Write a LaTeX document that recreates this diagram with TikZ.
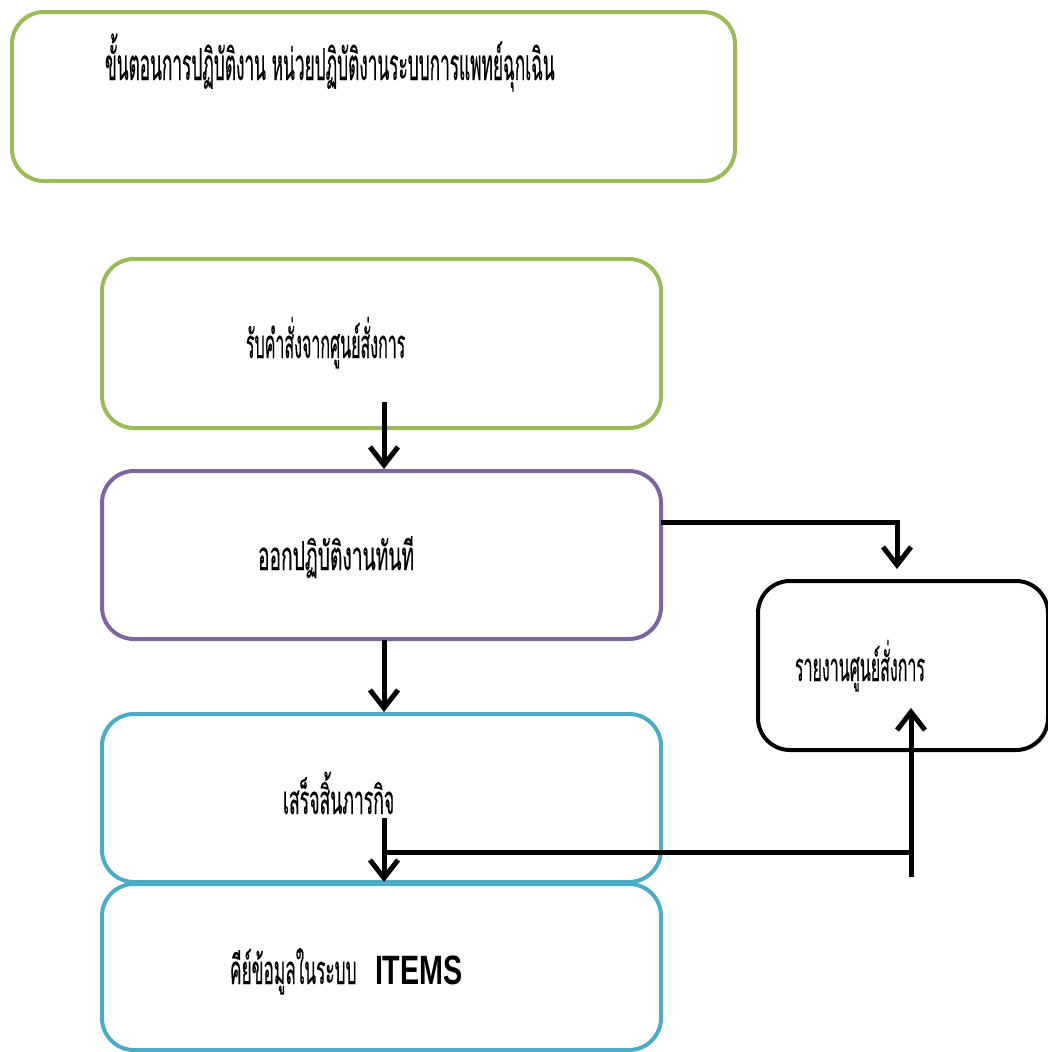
\documentclass[tikz,border=0pt]{standalone}
\usepackage{fontspec}
\newfontfamily\thaifont[Script=Thai,FakeStretch=0.4,FakeBold=0.3]{Loma}
\newfontfamily\itemsfont[FakeStretch=0.7]{Liberation Sans}
\usetikzlibrary{arrows.meta}
\definecolor{cgreen}{HTML}{9BBB59}
\definecolor{cpurple}{HTML}{8064A2}
\definecolor{ccyan}{HTML}{4BACC6}
\tikzset{
  box/.style={draw=#1, line width=4pt, rounded corners=32pt, rectangle, fill=none, inner sep=0pt},
  lbl/.style={inner sep=0pt, outer sep=0pt, font=\thaifont\fontsize{40}{46}\selectfont},
  conn/.style={line width=5pt, black},
  arr/.style={conn, -{Straight Barb[length=18pt,width=28pt]}},
}
\begin{document}
\begin{tikzpicture}[x=1pt,y=-1pt]
\useasboundingbox (0,0) rectangle (1047,1052);
\fill[white] (0,0) rectangle (1047,1052);
% boxes
\node[box=cgreen, minimum width=723pt, minimum height=169pt] (title) at (373.5,96.5) {};
\node[box=cgreen, minimum width=559pt, minimum height=169pt] (b1) at (381.5,343.5) {};
\node[box=cpurple, minimum width=559pt, minimum height=168pt] (b2) at (381.5,555) {};
\node[box=ccyan, minimum width=559pt, minimum height=168pt] (b3) at (381.5,798) {};
\node[box=ccyan, minimum width=559pt, minimum height=166pt] (b4) at (381.5,967) {};
\node[box=black, minimum width=290pt, minimum height=169pt] (b5) at (903,665.5) {};
% labels
\node[lbl, anchor=base west, font=\thaifont\fontsize{44}{50}\selectfont] (t0) at (105,80) {\scalebox{0.98}[1]{ขั้นตอนการปฏิบัติงาน หน่วยปฏิบัติงานระบบการแพทย์ฉุกเฉิน}};
\node[lbl, anchor=base west] (t1) at (246,358) {รับคำสั่งจากศูนย์สั่งการ};
\node[lbl, anchor=base west] (t2) at (258,570) {\scalebox{1.2}[1]{ออกปฏิบัติงานทันที}};
\node[lbl, anchor=base west] (t3) at (283,814) {\scalebox{1.1}[1]{เสร็จสิ้นภารกิจ}};
\node[lbl, anchor=base west] (t4) at (230,984) {\makebox[145pt][l]{\scalebox{1.08}[1]{คีย์ข้อมูลในระบบ}}{\itemsfont\bfseries\fontsize{41}{44}\selectfont ITEMS}};
\node[lbl, anchor=base west] (t5) at (795,681) {รายงานศูนย์สั่งการ};
% connectors
\coordinate (a1s) at (384,402);
\coordinate (a2s) at (384,640);
\coordinate (a4s) at (384,818);
\coordinate (a3s) at (661,522);
\coordinate (a3e) at (897,569);
\coordinate (a5s) at (911,877);
\coordinate (a5e) at (911,708);
\draw[arr] (a1s) -- (a1s |- b2.north);
\draw[arr] (a2s) -- (a2s |- b3.north);
\draw[arr] (a4s) -- (a4s |- b4.north);
\draw[arr] (a3s) -| (a3e);
\draw[conn] (a4s |- a5s) ++(0,-25) -- (a5e |- 0,852);
\draw[arr] (a5s) -- (a5e);
\end{tikzpicture}
\end{document}
